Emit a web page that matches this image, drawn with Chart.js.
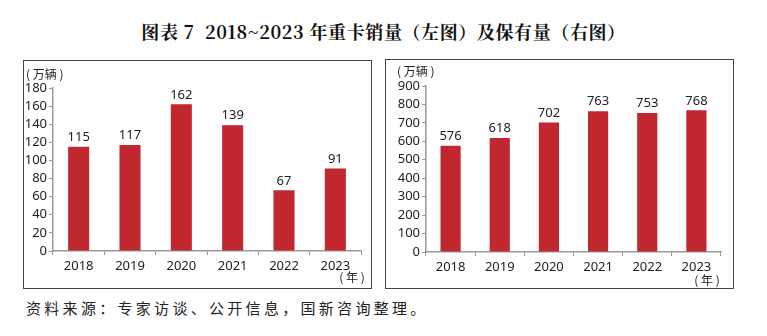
<!DOCTYPE html>
<html><head><meta charset="utf-8">
<script src="https://cdn.jsdelivr.net/npm/chart.js@4/dist/chart.umd.min.js"></script>
<style>
body{margin:0;background:#fff;width:767px;height:336px;position:relative;overflow:hidden;font-family:"Noto Sans CJK SC","Noto Sans",sans-serif;}
#title{position:absolute;left:0;width:767px;top:18px;text-align:center;font-family:"Noto Serif CJK SC","Noto Sans CJK SC",serif;font-weight:bold;font-size:18px;color:#111;white-space:pre;letter-spacing:0.6px;}
.panel{position:absolute;border:1.5px solid #444;box-sizing:border-box;}
.panel canvas{position:absolute;left:0;top:0;}
#src{position:absolute;left:26px;top:297px;font-size:15px;color:#222;letter-spacing:3.3px;font-family:"Noto Sans CJK SC",serif;}
</style></head><body>
<div id="title">图表 7  2018~2023 年重卡销量（左图）及保有量（右图）</div>
<div class="panel" style="left:23px;top:60px;width:349px;height:229px;"><canvas id="c1" width="346" height="226" style="width:346px;height:226px;"></canvas></div>
<div class="panel" style="left:385px;top:59px;width:349px;height:230px;"><canvas id="c2" width="346" height="227" style="width:346px;height:227px;"></canvas></div>
<div id="src">资料来源：专家访谈、公开信息，国新咨询整理。</div>
<script>
const categories = ['2018','2019','2020','2021','2022','2023'];
const salesValues = [115,117,162,139,67,91];
const stockValues = [576,618,702,763,753,768];
const unitLabel = '( 万辆 )';
const yearLabel = '( 年 )';
const leftMax = 180, leftStep = 20;
const rightMax = 900, rightStep = 100;

const barColor = '#c0272e';
const textColor = '#222';
const FONT = '"Noto Sans","Open Sans",sans-serif';

const labelPlugin = {
  id:'labels',
  afterDatasetsDraw(chart, args, opts){
    const ctx = chart.ctx;
    ctx.save();
    ctx.fillStyle = textColor;
    ctx.font = '13px ' + FONT;
    ctx.textAlign = 'center';
    ctx.textBaseline = 'bottom';
    const meta = chart.getDatasetMeta(0);
    meta.data.forEach((bar,i)=>{
      ctx.fillText(String(chart.data.datasets[0].data[i]), bar.x, bar.y - 3);
    });
    ctx.font = '12px "Noto Sans CJK SC",sans-serif';
    ctx.textAlign = 'left';
    ctx.textBaseline = 'middle';
    ctx.fillText(unitLabel, opts.unitX, opts.unitY);
    ctx.textAlign = 'center';
    ctx.fillText(yearLabel, opts.yearX, opts.yearY);
    ctx.restore();
  }
};

function makeChart(id, values, max, step, yw, xh, pad, unitPos, yearPos){
  new Chart(document.getElementById(id), {
    type:'bar',
    data:{labels:categories, datasets:[{data:values, backgroundColor:barColor, barPercentage:0.82, categoryPercentage:0.5}]},
    options:{
      responsive:false, animation:false,
      layout:{padding:pad},
      plugins:{legend:{display:false}, tooltip:{enabled:false},
        labels:{unitX:unitPos[0], unitY:unitPos[1], yearX:yearPos[0], yearY:yearPos[1]}},
      scales:{
        x:{
          grid:{offset:true, drawOnChartArea:false, drawTicks:true, tickLength:4, color:'#999'},
          border:{display:true, color:'#999', width:1.5},
          ticks:{color:textColor, font:{size:13, family:FONT}, padding:3, maxRotation:0, autoSkip:false},
          afterFit(s){ s.height = xh; }
        },
        y:{
          min:0, max:max,
          grid:{drawOnChartArea:false, drawTicks:true, tickLength:4, color:'#999'},
          border:{display:true, color:'#999', width:1.5},
          ticks:{stepSize:step, color:textColor, font:{size:13, family:FONT}, padding:2, autoSkip:false},
          afterFit(s){ s.width = yw; }
        }
      }
    },
    plugins:[labelPlugin]
  });
}
makeChart('c1', salesValues, leftMax, leftStep, 29, 36, {top:27, right:9, left:0, bottom:0}, [2,13], [328,216]);
makeChart('c2', stockValues, rightMax, rightStep, 40, 35, {top:26, right:11, left:0, bottom:0}, [11,11], [321,220]);
</script>
</body></html>
